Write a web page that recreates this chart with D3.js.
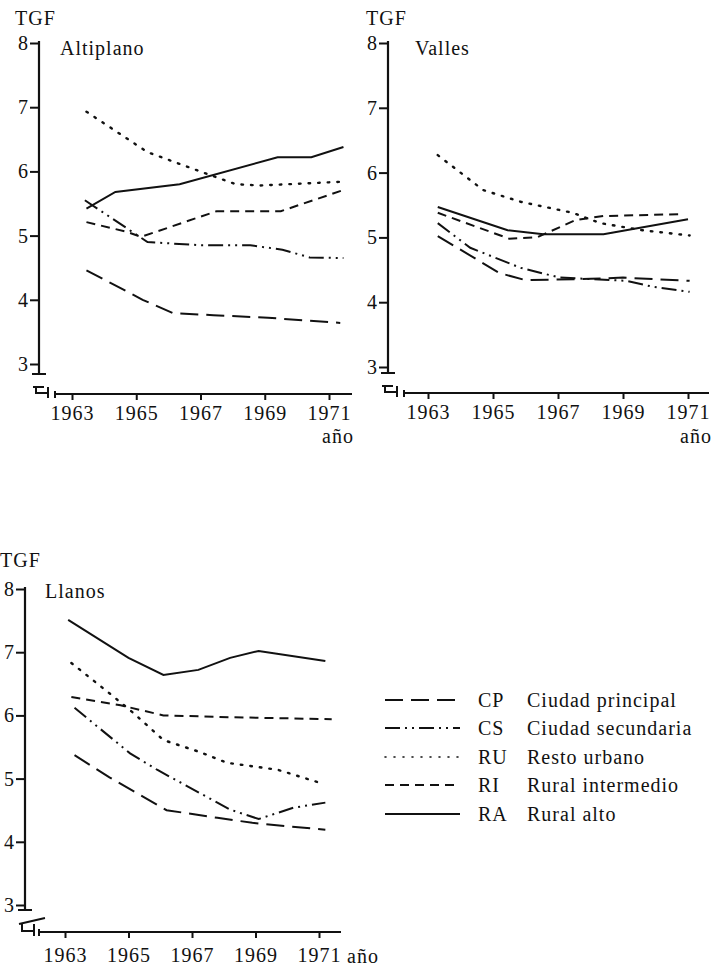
<!DOCTYPE html>
<html>
<head>
<meta charset="utf-8">
<script src="https://cdn.jsdelivr.net/npm/d3@7/dist/d3.min.js"></script>
<style>
  html, body { margin: 0; padding: 0; background: #fff; }
</style>
</head>
<body>
<svg id="chart" width="711" height="971"></svg>
<script>
// Tasa global de fecundidad (TGF) por región y estrato, 1963–1971
const yearTicks = [1963, 1965, 1967, 1969, 1971];
const tgfTicks = [3, 4, 5, 6, 7, 8];

// Altiplano: [año, TGF]
const altiplanoCP = [[1963.45, 4.46], [1965.2, 4.0], [1966.15, 3.79], [1967.4, 3.76], [1969.1, 3.72], [1971.35, 3.64]];
const altiplanoCS = [[1963.4, 5.55], [1965.35, 4.9], [1967.0, 4.85], [1968.55, 4.85], [1969.55, 4.78], [1970.4, 4.66], [1971.45, 4.65]];
const altiplanoRU = [[1963.45, 6.93], [1965.35, 6.3], [1967.15, 5.97], [1968.1, 5.8], [1968.85, 5.78], [1971.45, 5.84]];
const altiplanoRI = [[1963.45, 5.21], [1964.7, 5.06], [1965.15, 4.98], [1967.5, 5.38], [1969.5, 5.38], [1971.45, 5.71]];
const altiplanoRA = [[1963.45, 5.42], [1964.35, 5.68], [1966.35, 5.8], [1969.4, 6.22], [1970.45, 6.22], [1971.45, 6.38]];

// Valles
const vallesCP = [[1963.3, 5.02], [1965.2, 4.45], [1966.0, 4.34], [1968.0, 4.36], [1969.0, 4.38], [1971.05, 4.33]];
const vallesCS = [[1963.3, 5.22], [1964.3, 4.84], [1965.85, 4.53], [1967.05, 4.38], [1969.1, 4.33], [1969.9, 4.24], [1971.05, 4.16]];
const vallesRU = [[1963.3, 6.27], [1964.7, 5.73], [1965.85, 5.55], [1967.45, 5.38], [1968.3, 5.22], [1969.6, 5.11], [1971.05, 5.03]];
const vallesRI = [[1963.3, 5.38], [1965.5, 4.98], [1966.35, 5.0], [1967.55, 5.27], [1968.4, 5.33], [1970.85, 5.36]];
const vallesRA = [[1963.3, 5.47], [1965.45, 5.11], [1966.55, 5.05], [1968.4, 5.05], [1971.0, 5.28]];

// Llanos
const llanosCP = [[1963.3, 5.37], [1964.4, 5.02], [1966.2, 4.5], [1967.8, 4.38], [1968.9, 4.3], [1971.2, 4.19]];
const llanosCS = [[1963.3, 6.12], [1965.05, 5.4], [1965.9, 5.14], [1968.2, 4.51], [1969.1, 4.36], [1970.2, 4.54], [1971.2, 4.62]];
const llanosRU = [[1963.2, 6.83], [1964.4, 6.35], [1965.15, 6.04], [1966.1, 5.61], [1967.25, 5.42], [1968.1, 5.25], [1969.7, 5.14], [1971.05, 4.93]];
const llanosRI = [[1963.2, 6.29], [1964.75, 6.16], [1966.1, 6.0], [1968.3, 5.97], [1971.4, 5.94]];
const llanosRA = [[1963.1, 7.51], [1965.0, 6.91], [1966.1, 6.64], [1967.2, 6.72], [1968.2, 6.91], [1969.1, 7.02], [1971.2, 6.86]];

const seriesCodes = ["CP", "CS", "RU", "RI", "RA"];
const seriesNames = ["Ciudad principal", "Ciudad secundaria", "Resto urbano", "Rural intermedio", "Rural alto"];

// Trazo de cada estrato
const dashes = {
  CP: "18,8",
  CS: "15,5,2,5,2,5",
  RU: "1.6,8",
  RI: "9,6",
  RA: null
};

const FONT = "Liberation Serif, DejaVu Serif, Times New Roman, serif";
const svg = d3.select("#chart");

// texto con tipografía romana
function label(sel, x, y, txt) {
  return sel.append("text").attr("x", x).attr("y", y)
    .style("font-family", FONT).style("font-size", "20px").style("letter-spacing", "1px")
    .attr("fill", "#111").text(txt);
}

const panels = [
  { title: "Altiplano", data: { CP: altiplanoCP, CS: altiplanoCS, RU: altiplanoRU, RI: altiplanoRI, RA: altiplanoRA },
    ax: 39, y8: 43, y3: 364, yBottom: 374, x0: 72, x1: 329, axisY: 394, axisEnd: 352,
    tgfX: 15, tgfY: 25, titleX: 60, titleY: 55, anoX: 322, anoY: 443, slanted: false },
  { title: "Valles", data: { CP: vallesCP, CS: vallesCS, RU: vallesRU, RI: vallesRI, RA: vallesRA },
    ax: 388, y8: 43, y3: 367, yBottom: 373, x0: 428, x1: 688, axisY: 393, axisEnd: 709,
    tgfX: 366, tgfY: 25, titleX: 415, titleY: 55, anoX: 680, anoY: 443, slanted: false },
  { title: "Llanos", data: { CP: llanosCP, CS: llanosCS, RU: llanosRU, RI: llanosRI, RA: llanosRA },
    ax: 25, y8: 589, y3: 905, yBottom: 910, x0: 65, x1: 319, axisY: 932, axisEnd: 341,
    tgfX: 0, tgfY: 567, titleX: 45, titleY: 598, anoX: 347, anoY: 963, slanted: true }
];

panels.forEach(p => {
  const g = svg.append("g");
  const x = d3.scaleLinear().domain([1963, 1971]).range([p.x0, p.x1]);
  const y = d3.scaleLinear().domain([3, 8]).range([p.y3, p.y8]);

  // eje vertical
  const yAxis = d3.axisLeft(y).tickValues(tgfTicks).tickFormat(d3.format("d"))
    .tickSize(9).tickSizeOuter(0).tickPadding(2);
  const ya = g.append("g").attr("transform", `translate(${p.ax},0)`).call(yAxis);
  ya.select(".domain").remove();
  ya.selectAll(".tick line").attr("stroke", "#111").attr("stroke-width", 2);
  ya.selectAll(".tick text").attr("fill", "#111")
    .style("font-family", FONT).style("font-size", "20px");
  g.append("line").attr("x1", p.ax).attr("x2", p.ax).attr("y1", p.y8 - 2).attr("y2", p.yBottom)
    .attr("stroke", "#111").attr("stroke-width", 2.2);
  g.append("line").attr("x1", p.ax - 7).attr("x2", p.ax + 7).attr("y1", p.yBottom).attr("y2", p.yBottom)
    .attr("stroke", "#111").attr("stroke-width", 2);

  // marca de corte de ejes
  const a = p.ax, b = p.axisY;
  const brk = p.slanted
    ? `M${a - 6},${b - 8} L${a + 20},${b - 14} M${a - 3},${b - 8} L${a - 3},${b - 1} L${a + 9},${b - 1} M${a + 9},${b - 8} L${a + 9},${b + 4} M${a + 14},${b - 3} L${a + 14},${b + 4}`
    : `M${a - 6},${b - 7} L${a + 5},${b - 7} M${a - 3},${b - 7} L${a - 3},${b - 1} L${a + 9},${b - 1} M${a + 9},${b - 7} L${a + 9},${b + 4} M${a + 16},${b - 3} L${a + 16},${b + 4}`;
  g.append("path").attr("d", brk).attr("fill", "none").attr("stroke", "#111").attr("stroke-width", 2);

  // eje horizontal
  const xAxis = d3.axisBottom(x).tickValues(yearTicks).tickFormat(d3.format("d"))
    .tickSize(6).tickSizeOuter(0).tickPadding(p.slanted ? 10 : 6);
  const xa = g.append("g").attr("transform", `translate(0,${p.axisY})`).call(xAxis);
  xa.select(".domain").remove();
  xa.selectAll(".tick line").attr("stroke", "#111").attr("stroke-width", 2);
  xa.selectAll(".tick text").attr("fill", "#111")
    .style("font-family", FONT).style("font-size", "20px").style("letter-spacing", "1px");
  g.append("line").attr("x1", p.ax + (p.slanted ? 14 : 16)).attr("x2", p.axisEnd)
    .attr("y1", p.axisY).attr("y2", p.axisY).attr("stroke", "#111").attr("stroke-width", 2.2);

  // rótulos
  label(g, p.tgfX, p.tgfY, "TGF");
  label(g, p.titleX, p.titleY, p.title);
  label(g, p.anoX, p.anoY, "año");

  // curvas
  const line = d3.line().x(d => x(d[0])).y(d => y(d[1]));
  seriesCodes.forEach(code => {
    g.append("path").datum(p.data[code])
      .attr("d", line)
      .attr("fill", "none")
      .attr("stroke", "#111")
      .attr("stroke-width", code === "RU" ? 2.4 : 2)
      .attr("stroke-linecap", code === "RU" ? "round" : "butt")
      .attr("stroke-dasharray", dashes[code]);
  });
});

// leyenda
const legendRows = [700, 728, 757, 785, 814];
const lg = svg.append("g");
seriesCodes.forEach((code, i) => {
  const yy = legendRows[i];
  lg.append("line").attr("x1", 385).attr("x2", 460).attr("y1", yy).attr("y2", yy)
    .attr("stroke", "#111").attr("stroke-width", code === "RU" ? 1.6 : 2)
    .attr("stroke-linecap", code === "RU" ? "round" : "butt")
    .attr("stroke-dasharray", code === "RU" ? "1,8" : dashes[code]);
  label(lg, 478, yy + 7, code);
  label(lg, 527, yy + 7, seriesNames[i]);
});
</script>
</body>
</html>
